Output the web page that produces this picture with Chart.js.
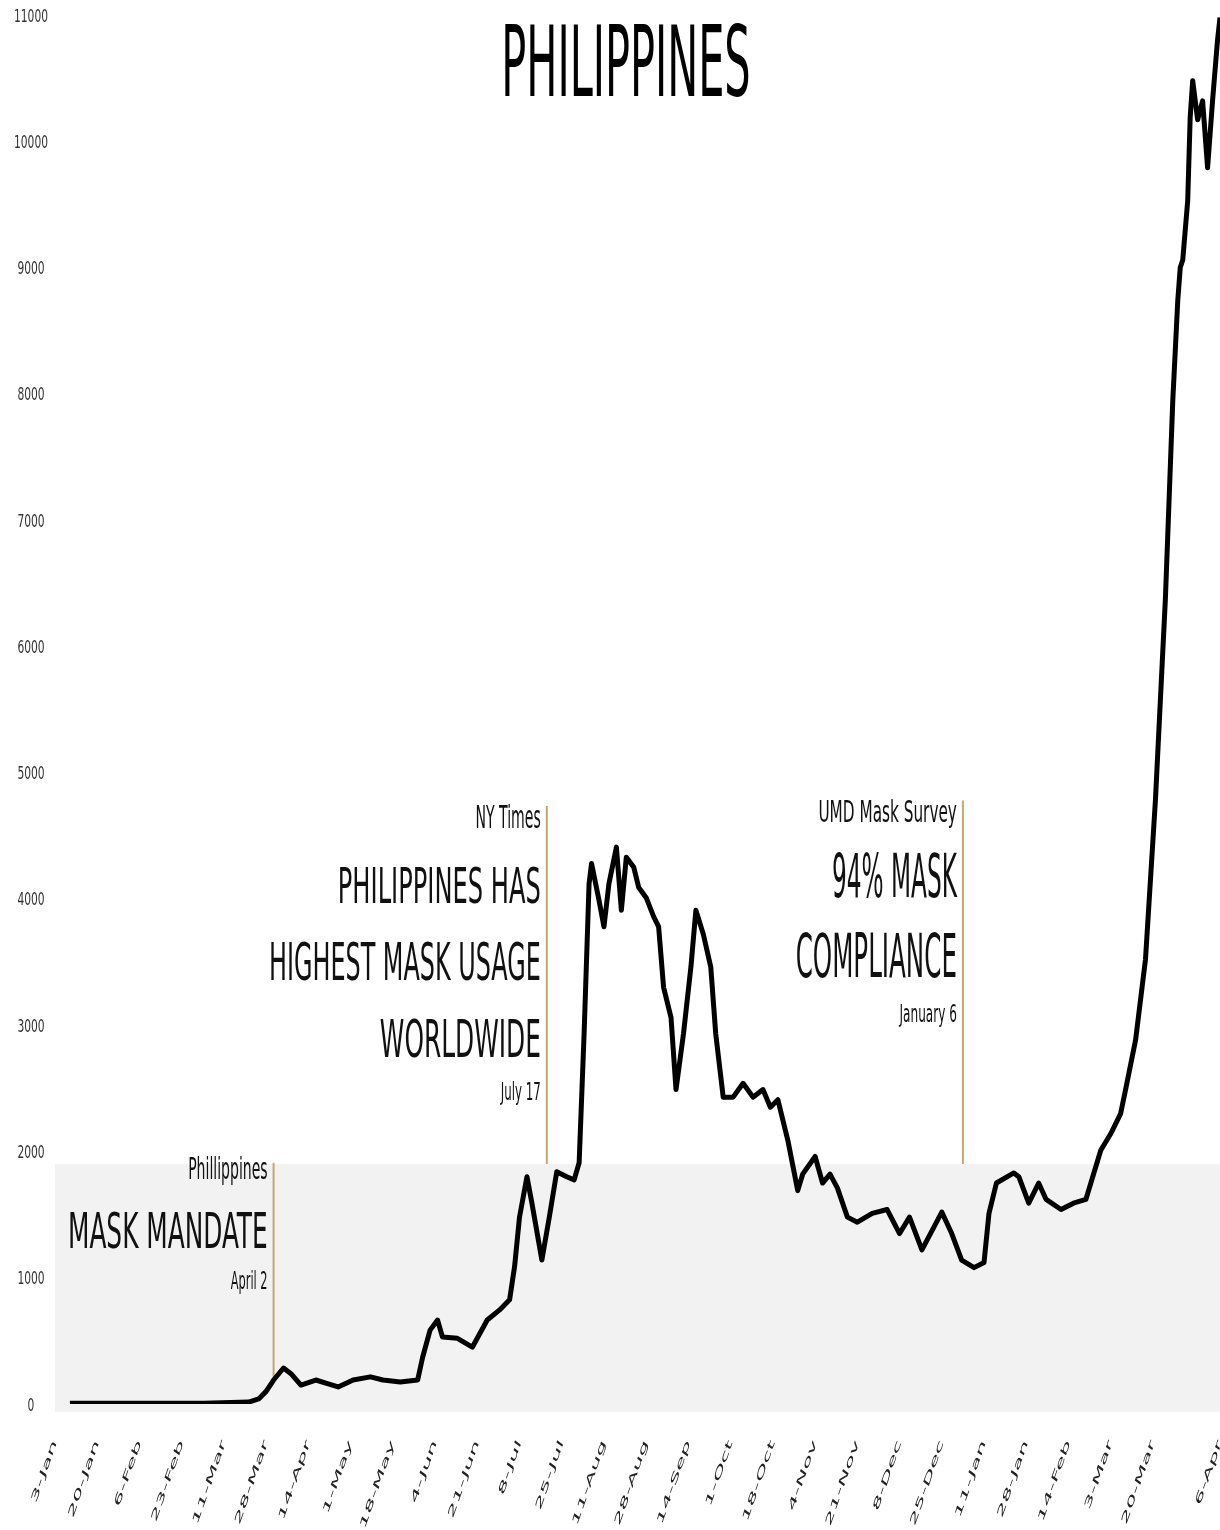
<!DOCTYPE html>
<html>
<head>
<meta charset="utf-8">
<script src="https://cdn.jsdelivr.net/npm/chart.js@4/dist/chart.umd.min.js"></script>
<style>
  html, body { margin: 0; padding: 0; background: #fff; }
  canvas { display: block; }
</style>
</head>
<body>
<canvas id="chart" width="1220" height="1530"></canvas>
<script>
// days since 3 Jan 2020
const days = [
  6, 60, 78, 82, 85, 88, 92, 95, 99, 105,
  110, 114, 120, 127, 132, 139, 146, 148, 151, 154,
  156, 162, 168, 174, 179, 183, 185, 187, 190, 192,
  196, 199, 202, 206, 209, 211, 213, 215, 216, 219,
  221, 223, 226, 228, 230, 233, 235, 238, 241, 243,
  245, 248, 250, 253, 256, 258, 261, 264, 266, 269,
  273, 277, 281, 285, 288, 291, 295, 299, 301, 306,
  309, 312, 315, 319, 323, 329, 335, 340, 344, 349,
  357, 361, 365, 370, 374, 376, 379, 386, 388, 392,
  396, 399, 405, 410, 415, 421, 425, 429, 431, 435,
  439, 443, 447, 450, 452, 453, 454, 456, 457, 458,
  460, 462, 464, 466, 468, 469,
];
const cases = [
  5, 5, 15, 40, 100, 190, 285, 240, 150, 190,
  160, 135, 190, 215, 190, 175, 190, 370, 585, 665,
  530, 520, 450, 665, 745, 825, 1085, 1480, 1800, 1590,
  1140, 1480, 1840, 1800, 1775, 1910, 2930, 4120, 4280, 3990,
  3780, 4120, 4410, 3910, 4330, 4250, 4090, 4010, 3860, 3780,
  3300, 3060, 2490, 2930, 3460, 3910, 3720, 3460, 2930, 2430,
  2430, 2540, 2430, 2490, 2350, 2410, 2090, 1690, 1820, 1960,
  1750, 1820, 1710, 1480, 1440, 1510, 1540, 1350, 1480, 1220,
  1520, 1350, 1140, 1080, 1120, 1510, 1750, 1830, 1800, 1590,
  1750, 1620, 1540, 1590, 1620, 2010, 2140, 2300, 2490, 2880,
  3520, 4780, 6370, 7950, 8740, 9000, 9060, 9530, 10190, 10480,
  10170, 10320, 9790, 10320, 10800, 10980,
];
const tickLabels = [
  '3-Jan', '20-Jan', '6-Feb', '23-Feb', '11-Mar', '28-Mar', '14-Apr',
  '1-May', '18-May', '4-Jun', '21-Jun', '8-Jul', '25-Jul', '11-Aug',
  '28-Aug', '14-Sep', '1-Oct', '18-Oct', '4-Nov', '21-Nov', '8-Dec',
  '25-Dec', '11-Jan', '28-Jan', '14-Feb', '3-Mar', '20-Mar', '6-Apr',
];
const noteDays = [88, 198, 365.5];
const noteTops = [1910, 4735, 4780];
const noteBottoms = [210, 1900, 1900];
const noteTexts = [
  ['Phillippines', 'MASK MANDATE', 'April 2'],
  ['NY Times', 'PHILIPPINES HAS', 'HIGHEST MASK USAGE', 'WORLDWIDE', 'July 17'],
  ['UMD Mask Survey', '94% MASK', 'COMPLIANCE', 'January 6'],
];

const FONT = '"DejaVu Sans Condensed", "DejaVu Sans", sans-serif';

// [baseline offset from line top, font size, x squeeze, y stretch]
const noteStyles = [
  [[16, 19, 0.82, 1.6], [85, 30, 0.92, 1.68], [126, 16, 0.79, 1.5]],
  [[22, 18, 0.87, 1.78], [97, 30, 0.895, 1.63], [174, 29.5, 0.9, 1.72],
    [251, 30, 0.92, 1.7], [294, 16, 0.82, 1.5]],
  [[22, 20, 0.85, 1.5], [97, 30, 0.86, 2.0], [177, 30, 0.91, 2.0],
    [222, 16, 0.84, 1.5]],
];

const drawText = (ctx, text, x, y, size, sx, sy, align, color) => {
  ctx.save();
  ctx.translate(x, y);
  ctx.scale(sx, sy);
  ctx.font = size + 'px ' + FONT;
  ctx.textAlign = align;
  ctx.textBaseline = 'alphabetic';
  ctx.fillStyle = color || '#111';
  ctx.fillText(text, 0, 0);
  ctx.restore();
};

const backdrop = {
  id: 'backdrop',
  beforeDraw: (chart) => {
    const {ctx, chartArea, scales} = chart;
    ctx.save();
    ctx.fillStyle = '#ffffff';
    ctx.fillRect(0, 0, chart.width, chart.height);
    const yTop = scales.y.getPixelForValue(1900);
    const yBot = scales.y.getPixelForValue(0);
    ctx.fillStyle = '#f2f2f2';
    ctx.fillRect(chartArea.left, yTop, chartArea.right - chartArea.left, yBot - yTop + 8);
    ctx.restore();
  },
};

const notes = {
  id: 'notes',
  beforeDatasetsDraw: (chart) => {
    const {ctx, scales} = chart;
    noteDays.forEach((d, i) => {
      const x = scales.x.getPixelForValue(d);
      const top = scales.y.getPixelForValue(noteTops[i]);
      const bottom = scales.y.getPixelForValue(noteBottoms[i]);
      ctx.save();
      ctx.strokeStyle = '#c9a66b';
      ctx.lineWidth = 2;
      ctx.beginPath();
      ctx.moveTo(x, top);
      ctx.lineTo(x, bottom);
      ctx.stroke();
      ctx.restore();
      noteTexts[i].forEach((t, j) => {
        const [off, size, sx, sy] = noteStyles[i][j];
        drawText(ctx, t, x - 6, top + off, size, sx, sy, 'right');
      });
    });
  },
  afterDraw: (chart) => {
    const {ctx, scales} = chart;
    drawText(ctx, 'PHILIPPINES', 626, 96, 49, 0.94, 2.0, 'center', '#000');

    scales.y.ticks.forEach((t) => {
      const y = scales.y.getPixelForValue(t.value);
      drawText(ctx, String(t.value), 31, y + 6.5, 14, 0.85, 1.25, 'center', '#333');
    });

    scales.x.ticks.forEach((t, i) => {
      const x = scales.x.getPixelForValue(t.value);
      ctx.save();
      ctx.translate(x, 1441);
      // slanted, stretched tick text running down-left from the tick
      ctx.transform(0.48, -1.38, 0.4, 0.3, 0, 0);
      ctx.font = '19px ' + FONT;
      ctx.textAlign = 'right';
      ctx.textBaseline = 'middle';
      ctx.fillStyle = '#222';
      ctx.fillText(tickLabels[i] || '', 0, 0);
      ctx.restore();
    });
  },
};

const ctx = document.getElementById('chart').getContext('2d');
new Chart(ctx, {
  type: 'line',
  data: {
    datasets: [
      {
        data: days.map((d, i) => ({x: d, y: cases[i]})),
        borderColor: '#000000',
        borderWidth: 5,
        borderJoinStyle: 'round',
        pointRadius: 0,
        tension: 0,
        fill: false,
      },
    ],
  },
  options: {
    responsive: false,
    animation: false,
    devicePixelRatio: 1,
    layout: {
      padding: {top: 15, left: 0, right: 0, bottom: 0},
    },
    plugins: {
      legend: {display: false},
      tooltip: {enabled: false},
      title: {display: false},
    },
    scales: {
      x: {
        type: 'linear',
        min: 0,
        max: 469,
        ticks: {stepSize: 17, display: false},
        grid: {display: false},
        border: {display: false},
        afterFit: (scale) => {
          scale.height = 126;
        },
      },
      y: {
        min: 0,
        max: 11000,
        ticks: {stepSize: 1000, display: false},
        grid: {display: false},
        border: {display: false},
        afterFit: (scale) => {
          scale.width = 55;
        },
      },
    },
  },
  plugins: [backdrop, notes],
});
</script>
</body>
</html>
